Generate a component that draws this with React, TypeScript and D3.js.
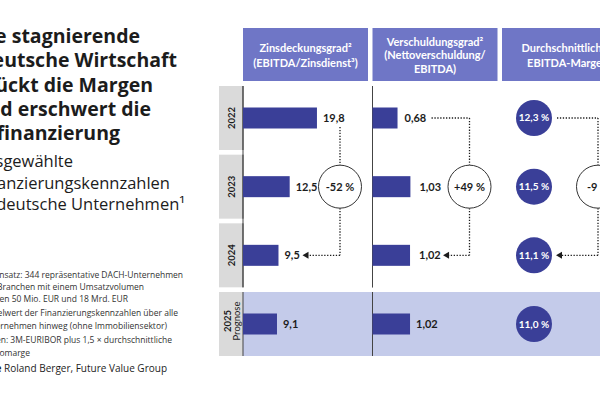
import React from "react";
import * as d3 from "d3";

const years = ["2022", "2023", "2024", "2025"];
const forecastLabel = "Prognose";
const coverageValues = [19.8, 12.5, 9.5, 9.1];
const leverageValues = [0.68, 1.03, 1.02, 1.02];
const marginValues = [12.3, 11.5, 11.1, 11.0];
const changeLabels = ["-52 %", "+49 %", "-9 %"];

const headers = [
  ["Zinsdeckungsgrad²", "(EBITDA/Zinsdienst³)"],
  ["Verschuldungsgrad²", "(Nettoverschuldung/", "EBITDA)"],
  ["Durchschnittliche", "EBITDA-Marge"],
];

const titleLines = [
  "Die stagnierende",
  "deutsche Wirtschaft",
  "drückt die Margen",
  "und erschwert die",
  "Refinanzierung",
];
const subtitleLines = ["Ausgewählte", "Finanzierungskennzahlen", "für deutsche Unternehmen¹"];
const footnoteLines = [
  "¹ Datensatz: 344 repräsentative DACH-Unternehmen",
  "aus 19 Branchen mit einem Umsatzvolumen",
  "zwischen 50 Mio. EUR und 18 Mrd. EUR",
  "² Mittelwert der Finanzierungskennzahlen über alle",
  "Unternehmen hinweg (ohne Immobiliensektor)",
  "³ Zinsen: 3M-EURIBOR plus 1,5 × durchschnittliche",
  "Risikomarge",
];
const sourceLabel = "Quelle";
const sourceText = " Roland Berger, Future Value Group";

const locale = d3.formatLocale({ decimal: ",", thousands: ".", grouping: [3], currency: ["", "€"] });
const f1 = locale.format(".1f");
const f2 = locale.format(".2f");

const FONT = "Lato, 'Open Sans', sans-serif";
const TFONT = "'Open Sans', Lato, sans-serif";
const DARK = "#1c1c1c";
const BAR = "#3a3f98";
const HEAD = "#6f76c6";
const BAND = "#c4cbea";
const GREY = "#dadada";

function Dotted({ x1, y1, x2, y2 }: { x1: number; y1: number; x2: number; y2: number }) {
  return <line x1={x1} y1={y1} x2={x2} y2={y2} stroke={DARK} strokeWidth={1.3} strokeDasharray="1.3 1.6" />;
}

export default function App() {
  const W = 600, H = 399;
  const y = d3.scaleBand<string>().domain(years).range([86, 356]).paddingInner(0.068).paddingOuter(0);
  const bw = y.bandwidth();
  const cy = (i: number) => (y(years[i]) as number) + bw / 2;
  const colX = d3.scaleLinear().domain([0, 1]).range([243, 372.5]);
  const colW = 125;
  const xCov = d3.scaleLinear().domain([0, 20]).range([0, 74.7]);
  const xLev = d3.scaleLinear().domain([0, 1]).range([0, 36.8]);
  const barH = 21;
  const levExtra = [1, 3, 3, 0];

  const titleEnds = [140, 177, 153, 151, 120];
  const subEnds = [73, 170, 185];
  const footEnds = [183, 144, 128, 178, 167, 172, 30];
  const footY = [278, 290, 302, 316, 329, 343, 356];

  const c0 = colX(0), c1 = colX(1), c2 = colX(2);
  const conn = [c0 + 97, c1 + 97, c2 + 96];
  const ringR = 21.5;
  const dotR = 18;
  const midY = cy(1);
  const lowY = cy(2);

  const arrowHead = (tipX: number, yy: number) => (
    <path d={`M${tipX},${yy} l6,-3.5 v7 z`} fill={DARK} />
  );

  const covLabelX = (i: number) => c0 + xCov(coverageValues[i]) + 6;
  const levLabelX = (i: number) => c1 + xLev(leverageValues[i]) + 6 + levExtra[i];

  return (
    <div style={{ position: "fixed", left: 0, top: 0, width: W, height: H, background: "#fff" }}>
      <svg width={W} height={H} style={{ display: "block", fontFamily: FONT }}>
        <rect width={W} height={H} fill="#fff" />
        {/* Title */}
        {titleLines.map((t, i) => (
          <text key={t} x={titleEnds[i]} y={43 + i * 24.3} textAnchor="end" fontFamily={TFONT} fontSize={19.5} fontWeight={700} fill={DARK}>
            {t}
          </text>
        ))}
        {subtitleLines.map((t, i) => (
          <text key={t} x={subEnds[i]} y={167 + i * 21.5} textAnchor="end" fontFamily={TFONT} fontSize={16.5} fontWeight={400} fill={DARK}>
            {t}
          </text>
        ))}
        {footnoteLines.map((t, i) => (
          <text key={t} x={footEnds[i]} y={footY[i]} textAnchor="end" fontFamily={TFONT} fontSize={8.5} fill="#333">
            {t}
          </text>
        ))}
        <text x={167} y={372} textAnchor="end" fontFamily={TFONT} fontSize={10} fill={DARK}>
          <tspan fontWeight={700}>{sourceLabel}</tspan>
          <tspan>{sourceText}</tspan>
        </text>

        {/* Headers */}
        {headers.map((lines, ci) => {
          const x = colX(ci);
          const n = lines.length;
          const lh = n === 3 ? 13.5 : 15;
          const start = 55 - ((n - 1) * lh) / 2 + 4;
          return (
            <g key={ci}>
              <rect x={x} y={28} width={colW} height={53} fill={HEAD} />
              {lines.map((l, li) => (
                <text key={li} x={x + colW / 2} y={start + li * lh} textAnchor="middle" fontSize={11} fontWeight={700} fill="#fff">
                  {l}
                </text>
              ))}
            </g>
          );
        })}

        {/* Forecast band */}
        <rect x={c0} y={y(years[3])} width={W - c0} height={bw} fill={BAND} />

        {/* Year boxes */}
        {years.map((yr, i) => {
          const top = y(yr) as number;
          const mid = top + bw / 2;
          return (
            <g key={yr}>
              <rect x={219} y={top} width={24} height={bw} fill={GREY} />
              {i < 3 ? (
                <text transform={`translate(234.5,${mid}) rotate(-90)`} textAnchor="middle" fontSize={9.5} fontWeight={700} fill={DARK}>
                  {yr}
                </text>
              ) : (
                <g>
                  <text transform={`translate(230.5,${mid - 3}) rotate(-90)`} textAnchor="middle" fontSize={9.5} fontWeight={700} fill={DARK}>
                    {yr}
                  </text>
                  <text transform={`translate(239.5,${mid - 3}) rotate(-90)`} textAnchor="middle" fontSize={9.5} fontWeight={400} fill={DARK}>
                    {forecastLabel}
                  </text>
                </g>
              )}
            </g>
          );
        })}

        {/* Axis lines */}
        {[c0, c1].map((x) =>
          years.map((yr) => (
            <line key={`${x}-${yr}`} x1={x} x2={x} y1={y(yr) as number} y2={(y(yr) as number) + bw} stroke="#444" strokeWidth={1} />
          ))
        )}
        {[c0, c1].map((x) => (
          <line key={`g${x}`} x1={x} x2={x} y1={y(years[0]) as number} y2={(y(years[2]) as number) + bw} stroke="#444" strokeWidth={1} />
        ))}

        {/* Coverage bars */}
        {coverageValues.map((v, i) => (
          <g key={`c${i}`}>
            <rect x={c0} y={cy(i) - barH / 2} width={xCov(v)} height={barH} fill={BAR} />
            <text x={covLabelX(i)} y={cy(i) + 4} fontSize={11} fontWeight={700} fill={DARK}>
              {f1(v)}
            </text>
          </g>
        ))}
        {/* Leverage bars */}
        {leverageValues.map((v, i) => (
          <g key={`l${i}`}>
            <rect x={c1} y={cy(i) - barH / 2} width={xLev(v)} height={barH} fill={BAR} />
            <text x={levLabelX(i)} y={cy(i) + 4} fontSize={11} fontWeight={700} fill={DARK}>
              {f2(v)}
            </text>
          </g>
        ))}
        {/* Margin dots */}
        {marginValues.map((v, i) => (
          <g key={`m${i}`}>
            <circle cx={c2 + 32} cy={cy(i)} r={dotR} fill={BAR} />
            <text x={c2 + 32} y={cy(i) + 3.5} textAnchor="middle" fontSize={10} fontWeight={700} fill="#fff">
              {f1(v)}{"\u202F%"}
            </text>
          </g>
        ))}

        {/* Connectors col 1 */}
        <Dotted x1={conn[0]} y1={cy(0) + 9} x2={conn[0]} y2={midY - ringR} />
        <Dotted x1={conn[0]} y1={midY + ringR} x2={conn[0]} y2={lowY} />
        <Dotted x1={conn[0]} y1={lowY} x2={covLabelX(2) + 23} y2={lowY} />
        {arrowHead(covLabelX(2) + 18, lowY)}
        {/* col 2 */}
        <Dotted x1={levLabelX(0) + 27} y1={cy(0)} x2={conn[1]} y2={cy(0)} />
        <Dotted x1={conn[1]} y1={cy(0)} x2={conn[1]} y2={midY - ringR} />
        <Dotted x1={conn[1]} y1={midY + ringR} x2={conn[1]} y2={lowY} />
        <Dotted x1={conn[1]} y1={lowY} x2={levLabelX(2) + 29} y2={lowY} />
        {arrowHead(levLabelX(2) + 24, lowY)}
        {/* col 3 */}
        <Dotted x1={c2 + 32 + dotR + 5} y1={cy(0)} x2={conn[2]} y2={cy(0)} />
        <Dotted x1={conn[2]} y1={cy(0)} x2={conn[2]} y2={midY - ringR} />
        <Dotted x1={conn[2]} y1={midY + ringR} x2={conn[2]} y2={lowY} />
        <Dotted x1={conn[2]} y1={lowY} x2={c2 + 32 + dotR + 9} y2={lowY} />
        {arrowHead(c2 + 32 + dotR + 4, lowY)}

        {changeLabels.map((t, i) => (
          <g key={t}>
            <circle cx={conn[i]} cy={midY} r={ringR} fill="#fff" stroke="#333" strokeWidth={1} />
            <text x={conn[i]} y={midY + 4} textAnchor="middle" fontSize={11} fontWeight={700} fill={DARK}>
              {t.replace(" ", "\u202F")}
            </text>
          </g>
        ))}
      </svg>
    </div>
  );
}
